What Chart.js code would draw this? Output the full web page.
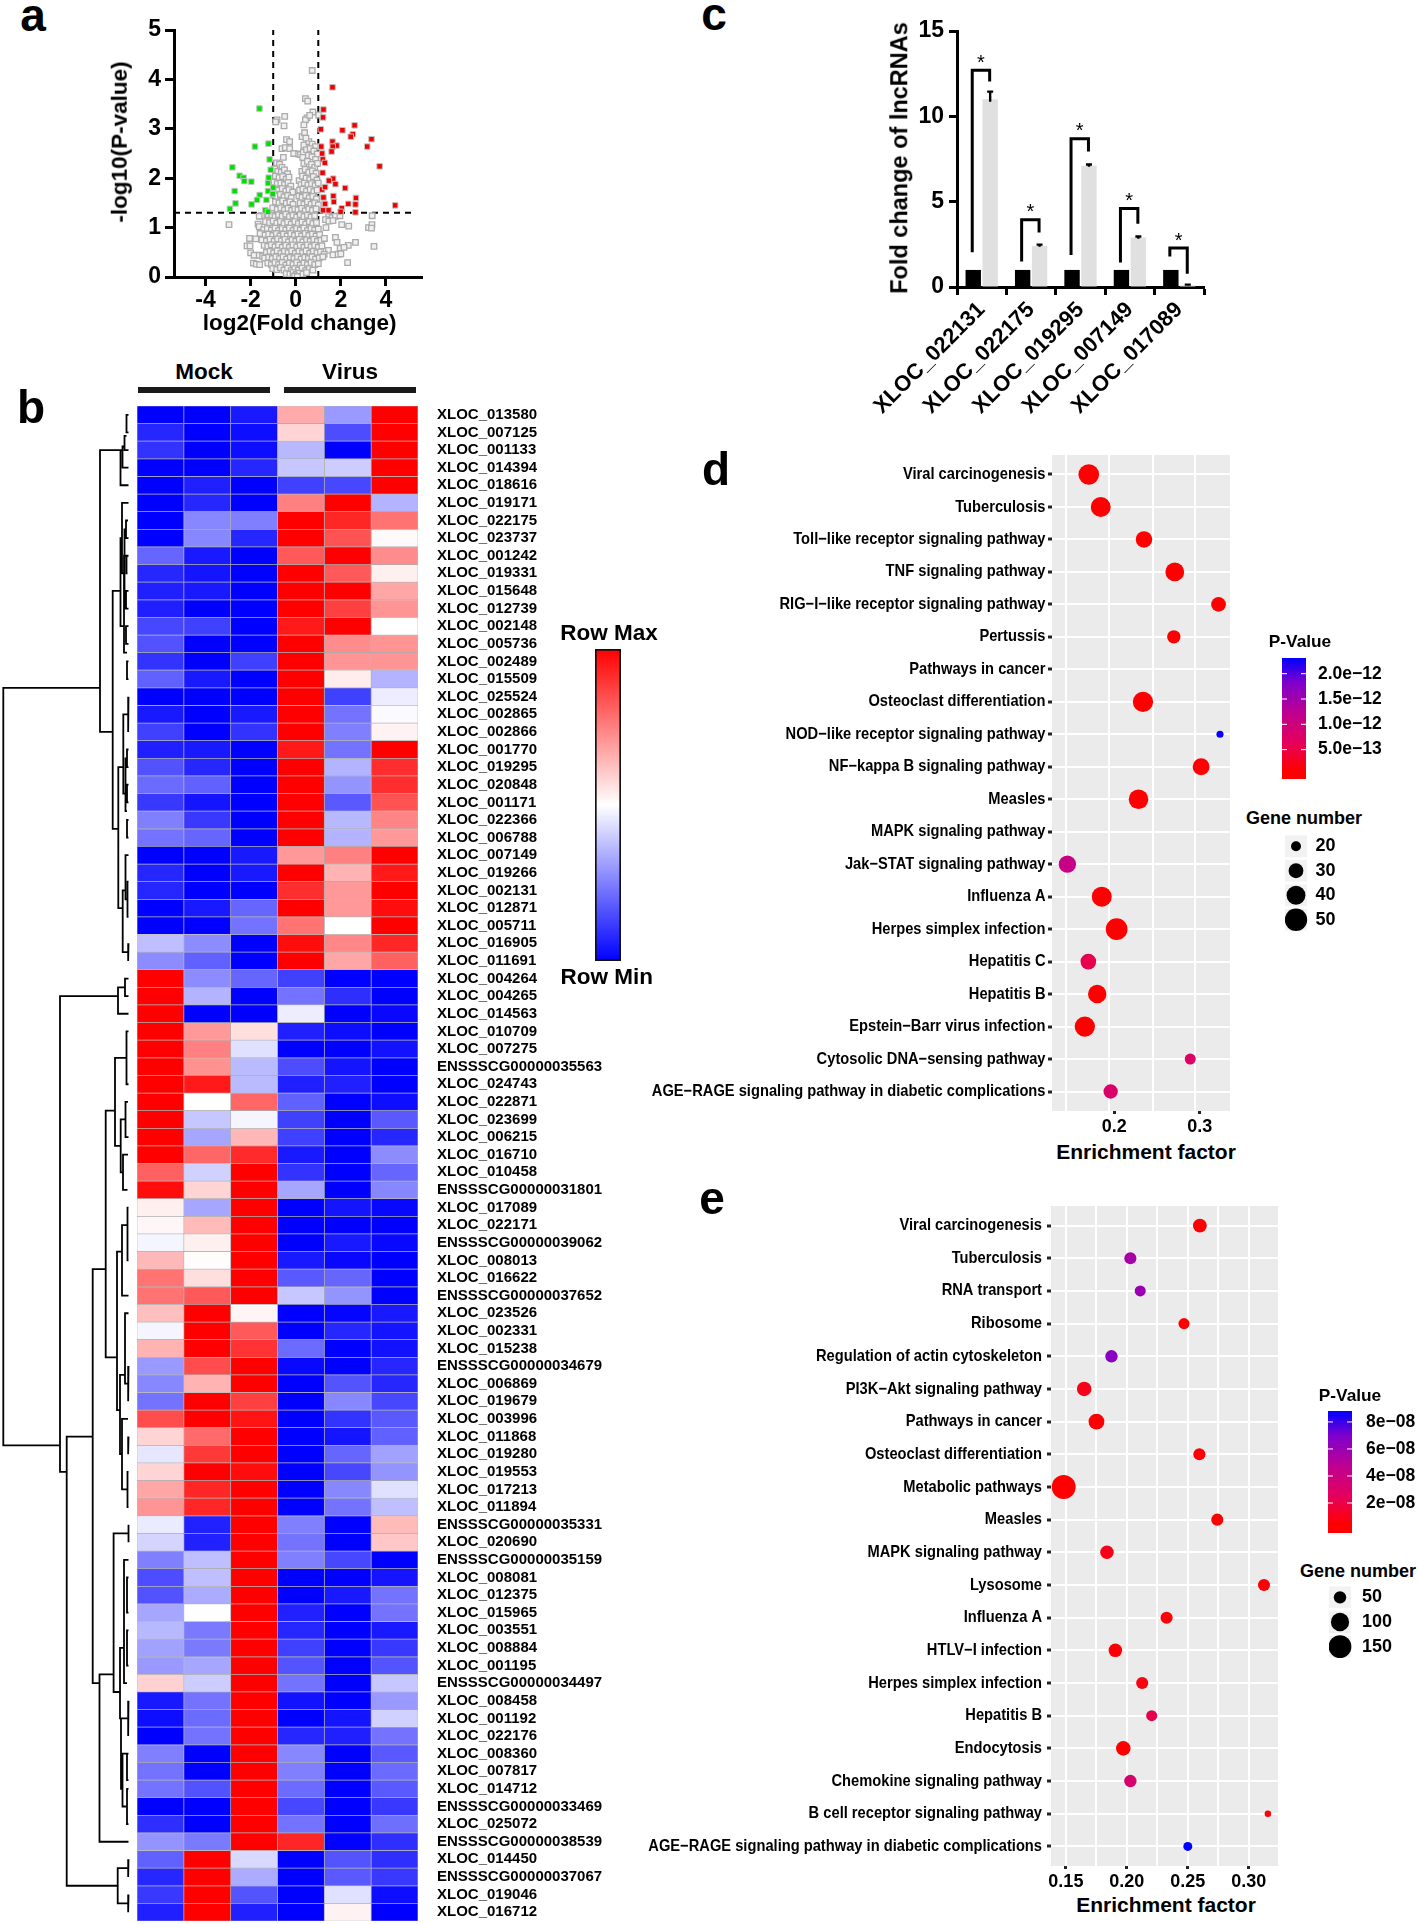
<!DOCTYPE html>
<html>
<head>
<meta charset="utf-8">
<title>lncRNA figure</title>
<script src="https://cdn.jsdelivr.net/npm/chart.js@4.4.2/dist/chart.umd.min.js"></script>
<style>
  html, body { margin: 0; padding: 0; background: #fff; }
  #fig { position: relative; width: 1418px; height: 1924px; overflow: hidden; font-family: "Liberation Sans", Arial, sans-serif; }
  #fig canvas { position: absolute; }
  .txt { position: absolute; white-space: nowrap; line-height: 1; font-weight: bold; color: #000; transform: translate(-50%, -50%); }
  .rule { position: absolute; background: #1a1a1a; }
</style>
</head>
<body>
<div id="fig"></div>
<script>
// ── a: volcano ─────────────────────────────────────────────────────────────
const volcanoXTicks = [-4, -2, 0, 2, 4];
const volcanoYTicks = [0, 1, 2, 3, 4, 5];
const volcanoCutP = 1.3;
const volcanoCutFc = [-1, 1];
const volcanoGreen = [[-1.61,3.41],[-1.21,2.70],[-1.81,2.64],[-1.16,2.38],[-1.11,2.17],[-2.81,2.22],[-2.49,2.05],[-2.31,2.01],[-2.28,1.94],[-1.97,1.93],[-1.20,2.01],[-1.23,1.90],[-1.0,1.81],[-1.23,1.74],[-2.71,1.74],[-1.60,1.66],[-1.02,1.68],[-1.30,1.56],[-1.72,1.56],[-1.96,1.47],[-2.67,1.49],[-2.92,1.38],[-1.35,1.35],[-1.23,1.32]];
const volcanoRed = [[1.63,3.84],[1.23,3.39],[1.21,3.23],[1.11,2.99],[2.07,2.97],[2.61,3.07],[2.53,2.89],[2.44,2.84],[3.36,2.79],[3.17,2.64],[1.63,2.74],[1.81,2.66],[1.64,2.64],[1.59,2.54],[1.13,2.64],[1.17,2.50],[1.20,2.38],[1.29,2.31],[1.19,2.11],[3.72,2.24],[1.66,1.99],[1.47,1.95],[1.76,1.88],[2.19,1.80],[1.17,1.77],[1.30,1.82],[1.67,1.64],[1.69,1.52],[1.23,1.61],[1.30,1.48],[2.67,1.60],[2.65,1.47],[2.33,1.48],[4.41,1.45],[2.04,1.39],[1.45,1.35],[1.21,1.35],[2.65,1.31],[1.99,1.32]];
const volcanoGrey = [
  [0.73,4.18],[0.43,3.61],[0.53,3.56],[0.76,3.34],[1.02,3.28],[-0.49,3.25],[-0.83,3.18],[-0.89,3.14],[-0.52,3.06],[0.5,3.22],[0.43,3.18],[0.36,3.08],[0.62,3.27],
  [0.28,2.84],[0.39,2.92],[-0.41,2.78],[-0.27,2.74],[-0.61,2.6],[-0.46,2.62],[-0.27,2.6],[-0.09,2.5],[0.13,2.49],[0.36,2.67],[0.58,2.74],[0.73,2.69],[0.87,2.64],[0.45,2.81],[0.21,2.48],[-0.55,2.42],[0.34,2.53],[0.48,2.58],[0.64,2.6],[0.8,2.55],[0.95,2.49],[0.31,2.42],[0.56,2.46],[0.72,2.43],[0.88,2.38],[-0.85,2.31],[-0.72,2.28],[-0.61,2.22],[0.36,2.3],[0.52,2.34],[0.7,2.28],[0.84,2.22],[0.97,2.3],
  [-0.94,2.19],[-0.8,2.14],[-0.64,2.12],[-0.5,2.17],[-0.36,2.09],[0.27,2.14],[0.42,2.18],[0.58,2.12],[0.74,2.15],[0.9,2.1],[-0.9,2.04],[-0.74,2.01],[-0.58,2.03],[-0.42,1.98],[-0.3,2.02],[0.15,1.95],[0.3,2.04],[0.46,2.0],[0.62,1.97],[0.78,2.03],[0.94,1.96],
  [-0.96,1.92],[-0.82,1.89],[-0.66,1.9],[-0.5,1.87],[-0.34,1.91],[-0.22,1.84],[0.23,1.87],[0.38,1.9],[0.54,1.86],[0.7,1.89],[0.86,1.85],[1.0,1.9],[-0.92,1.78],[-0.76,1.76],[-0.6,1.79],[-0.44,1.74],[-0.3,1.77],[-0.14,1.72],[0.17,1.76],[0.32,1.78],[0.48,1.74],[0.64,1.77],[0.8,1.73],[0.95,1.76],
  [-0.98,1.66],[-0.84,1.63],[-0.68,1.67],[-0.52,1.62],[-0.36,1.65],[-0.2,1.6],[0.14,1.64],[0.28,1.61],[0.44,1.65],[0.6,1.6],[0.76,1.63],[0.92,1.58],[-0.9,1.52],[-0.74,1.5],[-0.58,1.54],[-0.42,1.49],[-0.26,1.52],[-0.12,1.47],[0.2,1.5],[0.36,1.47],[0.52,1.52],[0.68,1.47],[0.84,1.5],[1.0,1.46],
  [-1.02,1.4],[-0.82,1.37],[-0.66,1.4],[-0.5,1.36],[-0.34,1.39],[-0.18,1.35],[-0.04,1.38],[0.1,1.36],[0.26,1.39],[0.42,1.34],[0.58,1.38],[0.74,1.35],[0.9,1.38],
  [-1.52,1.24],[-1.62,1.23],[-1.22,1.26],[-1.06,1.25],[-0.92,1.22],[-0.76,1.26],[-0.6,1.23],[-0.44,1.27],[-0.28,1.22],[-0.12,1.25],[0.04,1.21],[0.2,1.26],[0.36,1.22],[0.52,1.25],[0.68,1.21],[0.84,1.24],[1.46,1.22],[1.62,1.2],[1.76,1.23],[1.96,1.24],[3.39,1.24],[1.32,1.16],[1.47,1.13],[1.65,1.14],
  [-2.96,1.06],[-1.67,1.07],[-1.62,1.02],[-1.34,1.12],[-1.16,1.1],[-1.0,1.13],[-0.84,1.09],[-0.68,1.12],[-0.52,1.08],[-0.36,1.11],[-0.2,1.07],[-0.04,1.12],[0.12,1.08],[0.28,1.11],[0.44,1.07],[0.6,1.12],[0.76,1.08],[0.92,1.1],[1.34,1.0],[2.04,1.06],[2.35,1.03],[3.23,1.0],[3.38,1.06],[3.36,0.99],
  [-1.42,0.96],[-1.26,0.98],[-1.08,0.95],[-0.92,0.99],[-0.76,0.94],[-0.6,0.98],[-0.44,0.95],[-0.28,0.99],[-0.12,0.94],[0.04,0.98],[0.2,0.95],[0.36,0.99],[0.52,0.94],[0.68,0.98],[0.84,0.95],[1.0,0.97],[-1.58,0.88],[-1.36,0.85],[-1.2,0.87],[-1.02,0.84],[-0.86,0.88],[-0.7,0.83],[-0.54,0.87],[-0.38,0.83],[-0.22,0.88],[-0.06,0.84],[0.1,0.87],[0.26,0.83],[0.42,0.88],[0.58,0.84],[0.74,0.87],[0.9,0.83],[1.06,0.86],
  [-2.05,0.78],[-1.77,0.77],[-1.5,0.75],[-1.3,0.73],[-1.14,0.76],[-0.96,0.72],[-0.8,0.77],[-0.64,0.73],[-0.48,0.76],[-0.32,0.71],[-0.16,0.75],[0.0,0.72],[0.16,0.76],[0.32,0.71],[0.48,0.75],[0.64,0.72],[0.8,0.76],[0.96,0.72],[1.12,0.74],[1.27,0.78],[1.76,0.8],[1.83,0.7],[2.33,0.64],[2.65,0.7],[3.47,0.62],
  [-2.16,0.63],[-2.03,0.63],[-1.4,0.64],[-1.24,0.62],[-1.08,0.65],[-0.92,0.61],[-0.76,0.65],[-0.6,0.6],[-0.44,0.64],[-0.28,0.6],[-0.12,0.65],[0.04,0.61],[0.2,0.64],[0.36,0.6],[0.52,0.65],[0.68,0.61],[0.84,0.64],[1.0,0.6],[1.16,0.63],[1.45,0.54],[1.97,0.58],[2.14,0.6],
  [-2.0,0.49],[-1.85,0.44],[-1.62,0.44],[-1.47,0.42],[-1.3,0.5],[-1.14,0.52],[-0.98,0.49],[-0.82,0.53],[-0.66,0.48],[-0.5,0.52],[-0.34,0.49],[-0.18,0.53],[-0.02,0.48],[0.14,0.52],[0.3,0.49],[0.46,0.53],[0.62,0.48],[0.78,0.52],[0.94,0.49],[1.1,0.51],[1.26,0.46],[1.65,0.45],[1.88,0.46],[2.0,0.47],
  [-1.38,0.38],[-1.2,0.4],[-1.04,0.37],[-0.88,0.41],[-0.72,0.37],[-0.56,0.41],[-0.4,0.36],[-0.24,0.4],[-0.08,0.37],[0.08,0.41],[0.24,0.36],[0.4,0.4],[0.56,0.37],[0.72,0.41],[0.88,0.36],[1.04,0.39],[1.2,0.41],
  [-1.88,0.28],[-1.75,0.26],[-1.6,0.25],[-1.24,0.28],[-1.08,0.25],[-0.92,0.29],[-0.76,0.25],[-0.6,0.29],[-0.44,0.24],[-0.28,0.28],[-0.12,0.25],[0.04,0.29],[0.2,0.24],[0.36,0.28],[0.52,0.25],[0.68,0.29],[0.84,0.25],[1.0,0.27],[2.3,0.29],
  [-1.02,0.17],[-0.84,0.15],[-0.68,0.19],[-0.52,0.14],[-0.36,0.18],[-0.2,0.13],[-0.04,0.17],[0.12,0.14],[0.28,0.18],[0.44,0.13],[0.6,0.17],[0.76,0.14],[-0.42,0.07],[-0.26,0.06],[-0.12,0.09],[0.02,0.05],[0.16,0.08],[0.32,0.06],[0.48,0.09],[-0.05,0.02],[0.07,0.01]
];

// ── b: heat map ────────────────────────────────────────────────────────────
const heatLabels = ['XLOC_013580','XLOC_007125','XLOC_001133','XLOC_014394','XLOC_018616','XLOC_019171','XLOC_022175','XLOC_023737','XLOC_001242','XLOC_019331','XLOC_015648','XLOC_012739','XLOC_002148','XLOC_005736','XLOC_002489','XLOC_015509','XLOC_025524','XLOC_002865','XLOC_002866','XLOC_001770','XLOC_019295','XLOC_020848','XLOC_001171','XLOC_022366','XLOC_006788','XLOC_007149','XLOC_019266','XLOC_002131','XLOC_012871','XLOC_005711','XLOC_016905','XLOC_011691','XLOC_004264','XLOC_004265','XLOC_014563','XLOC_010709','XLOC_007275','ENSSSCG00000035563','XLOC_024743','XLOC_022871','XLOC_023699','XLOC_006215','XLOC_016710','XLOC_010458','ENSSSCG00000031801','XLOC_017089','XLOC_022171','ENSSSCG00000039062','XLOC_008013','XLOC_016622','ENSSSCG00000037652','XLOC_023526','XLOC_002331','XLOC_015238','ENSSSCG00000034679','XLOC_006869','XLOC_019679','XLOC_003996','XLOC_011868','XLOC_019280','XLOC_019553','XLOC_017213','XLOC_011894','ENSSSCG00000035331','XLOC_020690','ENSSSCG00000035159','XLOC_008081','XLOC_012375','XLOC_015965','XLOC_003551','XLOC_008884','XLOC_001195','ENSSSCG00000034497','XLOC_008458','XLOC_001192','XLOC_022176','XLOC_008360','XLOC_007817','XLOC_014712','ENSSSCG00000033469','XLOC_025072','ENSSSCG00000038539','XLOC_014450','ENSSSCG00000037067','XLOC_019046','XLOC_016712'];
// row-scaled expression, -1 (row min) to 1 (row max); Mock x3 then Virus x3
const heatRows = [
  [-1,-1,-.9,.33,-.4,1],[-.85,-1,-.95,.17,-.7,1],[-.8,-1,-.95,-.28,-1,1],[-1,-1,-.85,-.22,-.2,1],[-1,-.88,-1,-.75,-.72,1],
  [-1,-.85,-1,.5,1,-.3],[-1,-.47,-.5,1,.85,.55],[-1,-.47,-.85,1,.68,.02],[-.6,-.9,-1,.65,1,.45],[-.85,-.92,-1,1,.65,.06],
  [-.88,-.9,-1,1,1,.35],[-.88,-1,-1,1,.75,.42],[-.72,-.75,-1,.9,1,0],[-.68,-1,-1,1,.45,.42],[-.8,-1,-.75,1,.42,.42],
  [-.62,-.9,-1,1,.07,-.3],[-1,-1,-1,1,-.75,-.07],[-.9,-1,-.9,1,-.55,-.02],[-.75,-1,-.8,1,-.5,.05],[-.88,-.9,-1,.9,-.55,1],
  [-.68,-.85,-1,1,-.3,.82],[-.58,-.62,-1,1,-.42,.82],[-.78,-.92,-1,1,-.65,.68],[-.5,-.78,-1,1,-.28,.48],[-.55,-.6,-1,1,-.3,.4],
  [-1,-1,-.9,.4,.5,1],[-.85,-1,-.9,1,.3,.9],[-.85,-1,-1,.82,.4,1],[-1,-.9,-.6,1,.4,.95],[-1,-1,-.55,.55,0,1],
  [-.25,-.45,-1,.95,.47,.85],[-.45,-.62,-1,1,.35,.62],[1,-.45,-.6,-.75,-1,-1],[1,-.3,-1,-.55,-.82,-1],[1,-1,-1,-.07,-1,-.97],
  [1,.4,.13,-.88,-.95,-1],[1,.5,-.12,-1,-1,-.93],[1,.43,-.27,-.7,-.92,-1],[1,.9,-.27,-.88,-.88,-1],[1,0,.6,-.62,-1,-.95],
  [1,-.22,-.04,-.75,-1,-.65],[1,-.35,.28,-.75,-1,-.85],[1,.6,.83,-.9,-1,-.45],[.62,-.18,1,-.8,-1,-.6],[.95,.17,1,-.35,-1,-.47],
  [.06,-.35,1,-1,-.92,-.97],[.03,.27,1,-1,-1,-1],[-.04,.06,1,-1,-.9,-.97],[.28,.01,1,-.9,-.97,-1],[.55,.13,1,-.65,-.6,-1],
  [.55,.65,1,-.22,-.42,-1],[.25,1,.04,-1,-.98,-.9],[-.04,1,.65,-1,-.85,-.92],[.3,1,.8,-.58,-1,-.93],[-.4,.7,1,-.97,-1,-.85],
  [-.47,.3,1,-1,-.67,-.85],[-.55,1,.75,-1,-.47,-.72],[.7,1,.92,-1,-.8,-.65],[.17,.58,1,-1,-.92,-.62],[-.1,.78,1,-1,-.6,-.37],
  [.17,1,.95,-1,-.72,-.42],[.35,.85,1,-1,-.47,-.12],[.42,.85,1,-1,-.55,-.25],[-.08,-.87,1,-.5,-1,.27],[-.17,-.87,1,-.55,-1,.22],
  [-.5,-.25,1,-.5,-.72,-1],[-.7,-.25,1,-1,-1,-.92],[-.68,-.33,1,-1,-.9,-.55],[-.35,0,1,-.87,-1,-.55],[-.28,-.52,1,-.85,-1,-.9],
  [-.37,-.52,1,-.75,-1,-.78],[-.4,-.35,1,-.67,-1,-.67],[.18,-.2,1,-.55,-1,-.22],[-.9,-.55,1,-.93,-1,-.4],[-.95,-.58,1,-1,-.92,-.18],
  [-1,-.55,1,-.85,-.88,-.55],[-.5,-1,1,-.47,-1,-.65],[-.55,-1,1,-.5,-1,-.58],[-.55,-.68,1,-.58,-1,-.65],[-1,-1,1,-.72,-1,-.78],
  [-.82,-1,1,-.55,-1,-.57],[-.42,-.52,1,.85,-1,-.82],[-.62,1,-.15,-1,-.67,-.82],[-.85,1,-.33,-1,-.65,-.78],[-.78,1,-.67,-1,-.12,-.95],
  [-.88,1,-.88,-1,.05,-1]
];
// dendrogram joins: [join distance, upper row, upper child distance, lower row, lower child distance]
const dendroJoins = [
  [3.3,16.5,100,59.5,60],[100,3,120.5,19,112.7],[120.5,3,122.5,5,128.5],[122.5,2.8,124.5,4,128.5],[124.5,2.2,126.5,3,128.5],[126.5,1,128.5,2,128.5],
  [112.7,11,120.5,24.5,118.3],[120.5,8,122,13,124],[122,6,128.5,10,124.5],[124.5,7.5,126,12,126.5],[126,7,128,8,128.5],[126.5,9,128.5,10,127.5],[124,9,126,14.5,127],[126,11,128.5,12,128.5],[126,13,128.5,14,128.5],[127,15,128.5,16,128.5],
  [118.3,21,123.3,29,122.7],[123.3,18,128.5,22.5,125.5],[128,17,128.5,19,128.5],[125.5,20.5,127,23.5,127],[127,20,128.5,21,128.5],[127,22,128.5,23,128.5],[127,24,128.5,25,128.5],
  [122.7,28,125.5,31.5,128],[125.5,26,128.5,28.5,127.5],[127.5,27.5,128.5,29.5,128.5],[128,31,128.5,32,128.5],
  [60,34,118,61,66.7],[118,33.5,125,35,128.5],[125,33,128.5,34,128.5],[66.7,59,92.7,84.5,117.7],[117.7,83.5,128,85.5,128],[128,83,128.5,84,128.5],[128,85,128.5,86,128.5],
  [92.7,49.5,105.7,73,99.5],[99.5,72.5,113.6,82,128.5],[113.6,64.5,128.5,73.5,120],[128.5,64,128.5,65,128.5],[120,71,124,75,121],[124,66,128.5,73,127],[127,67,128.5,69,128.5],[127,70,128.5,72,128.5],
  [121,75,128,79,122.5],[128,74,128.5,76,128.5],[122.5,77,127,80,127],[127,77,128.5,78.5,128.5],[127,79,128.5,81,128.5],
  [105.7,40.5,115,54.5,117],[115,37.5,126.5,42.5,120.7],[126.5,36,128.5,39,128.5],[120.7,41,125.5,44,123],[125.5,40,128,42,128.5],[123,43,128,45,127.5],
  [117,48.5,122,57.5,120],[122,47,127.5,51,128.5],[127.5,46,128.5,49,128.5],[120,55.5,125,60,122],[125,52,128.5,56,128],[128,55,128.5,57,128.5],[122,58,128,62,127.5],[127.5,61,128.5,63,128.5],[128,59,128.5,60,128.5]
];

// ── c: fold change bars ────────────────────────────────────────────────────
const barLabels = ['XLOC_022131','XLOC_022175','XLOC_019295','XLOC_007149','XLOC_017089'];
const barTicks = [0, 5, 10, 15];
const mockFold = [1, 1, 1, 1, 1];
const virusFold = [11.0, 2.4, 7.1, 2.9, 0.1];
const virusErrHigh = [11.45, 2.48, 7.18, 2.96, 0.14];
const virusErrLow = [10.85, 2.36, 7.05, 2.82, 0.08];
const bracketTop = [12.7, 3.94, 8.69, 4.6, 2.28];
const bracketLeftEnd = [2.04, 1.5, 1.88, 1.43, 1.78];
const bracketRightEnd = [12.04, 3.2, 7.94, 3.7, 0.77];

// ── d: KEGG dots, first gene set ───────────────────────────────────────────
const pathwaysD = ['Viral carcinogenesis','Tuberculosis','Toll−like receptor signaling pathway','TNF signaling pathway','RIG−I−like receptor signaling pathway','Pertussis','Pathways in cancer','Osteoclast differentiation','NOD−like receptor signaling pathway','NF−kappa B signaling pathway','Measles','MAPK signaling pathway','Jak−STAT signaling pathway','Influenza A','Herpes simplex infection','Hepatitis C','Hepatitis B','Epstein−Barr virus infection','Cytosolic DNA−sensing pathway','AGE−RAGE signaling pathway in diabetic complications'];
const enrichD = [.1703,.1843,.2349,.2709,.3221,.2698,null,.2337,.3238,.3017,.2285,null,.1453,.1855,.2029,.1698,.1802,.1657,.2890,.1959];
const genesD = [45,43,34,40,30,27,null,44,15,35,42,null,36,43,48,32,39,44,22,29];
const pValD = [2e-14,1e-14,5e-14,3e-14,8e-14,1e-13,null,2e-14,2.28e-12,6e-14,3e-14,null,1.1e-12,3e-14,1e-14,5.5e-13,6e-14,5e-14,7.5e-13,8e-13];
const xTicksD = [0.2, 0.3];
const xGridD = [.1436, .194, .2453, .2948];
const pTicksD = [5e-13, 1e-12, 1.5e-12, 2e-12];
const pTickTextD = ['5.0e−13', '1.0e−12', '1.5e−12', '2.0e−12'];
const pRangeD = [-8e-14, 2.31e-12];
const sizeStopsD = [20, 30, 40, 50];

// ── e: KEGG dots, second gene set ──────────────────────────────────────────
const pathwaysE = ['Viral carcinogenesis','Tuberculosis','RNA transport','Ribosome','Regulation of actin cytoskeleton','PI3K−Akt signaling pathway','Pathways in cancer','Osteoclast differentiation','Metabolic pathways','Measles','MAPK signaling pathway','Lysosome','Influenza A','HTLV−I infection','Herpes simplex infection','Hepatitis B','Endocytosis','Chemokine signaling pathway','B cell receptor signaling pathway','AGE−RAGE signaling pathway in diabetic complications'];
const enrichE = [.2599,.2029,.211,.2469,.1874,.165,.1751,.2595,.1482,.2742,.1837,.3125,.2326,.1906,.2126,.2204,.1971,.2029,.3157,.25];
const genesE = [61,48,41,41,50,66,77,48,164,48,58,48,48,58,48,41,66,50,17,29];
const pValE = [2e-9,5.5e-8,6e-8,2e-9,6.6e-8,1e-8,2e-9,5e-9,0,3e-9,1e-8,5e-9,6e-9,5e-9,8e-9,2.2e-8,4e-9,3.2e-8,6e-9,8.8e-8];
const xTicksE = [0.15, 0.20, 0.25, 0.30];
const xGridE = [.15, .175, .2, .225, .25, .275, .3];
const pTicksE = [2e-8, 4e-8, 6e-8, 8e-8];
const pTickTextE = ['2e−08', '4e−08', '6e−08', '8e−08'];
const pRangeE = [-2.2e-9, 8.81e-8];
const sizeStopsE = [50, 100, 150];

// ── helpers ────────────────────────────────────────────────────────────────
const SANS = '"Liberation Sans", Arial, sans-serif';
const fig = document.getElementById('fig');
Chart.defaults.animation = false;
Chart.defaults.font.family = SANS;
Chart.defaults.color = '#000';
Chart.defaults.layout.autoPadding = false;
Chart.defaults.plugins.legend.display = false;
Chart.defaults.plugins.tooltip.enabled = false;

function label(text, x, y, size, rotate) {
  const d = document.createElement('div');
  d.className = 'txt';
  d.textContent = text;
  d.style.cssText = `left:${x}px;top:${y}px;font-size:${size}px;` +
    (rotate ? `transform:translate(-50%,-50%) rotate(${rotate}deg);` : '');
  fig.appendChild(d);
}

function rule(x1, y1, x2, y2) {
  const d = document.createElement('div');
  d.className = 'rule';
  d.style.cssText = `left:${x1}px;top:${y1}px;width:${x2 - x1}px;height:${y2 - y1}px`;
  fig.appendChild(d);
}

// canvas sized so the plot area lands on box; m = room round it for axes
function makeCanvas(box, m) {
  const c = document.createElement('canvas');
  c.width = Math.round(box.r - box.l + m.l + m.r);
  c.height = Math.round(box.b - box.t + m.t + m.b);
  c.style.left = (box.l - m.l) + 'px';
  c.style.top = (box.t - m.t) + 'px';
  c.style.width = c.width + 'px';
  c.style.height = c.height + 'px';
  fig.appendChild(c);
  return c;
}

function fixSize(size) {
  return s => {
    s.paddingLeft = s.paddingRight = s.paddingTop = s.paddingBottom = 0;
    if (s.isHorizontal()) s.height = size; else s.width = size;
  };
}
const setTicks = vals => s => { s.ticks = vals.map(v => ({ value: v })); };

const heatColor = v => {
  const k = Math.round(255 * (1 - Math.abs(v)));
  return v >= 0 ? `rgb(255,${k},${k})` : `rgb(${k},${k},255)`;
};

const P_STOPS = [[0, 255, 0, 0], [.07, 255, 0, 0], [.3, 228, 0, 92], [.55, 190, 0, 145], [.8, 125, 0, 205], [1, 0, 0, 255]];
function pColor(p, range) {
  const t = (p - range[0]) / (range[1] - range[0]);
  for (let i = 1; i < P_STOPS.length; i++) {
    const a = P_STOPS[i - 1], b = P_STOPS[i];
    if (t <= b[0]) {
      const f = Math.max(0, (t - a[0]) / (b[0] - a[0]));
      return `rgb(${[1, 2, 3].map(k => Math.round(a[k] + (b[k] - a[k]) * f)).join(',')})`;
    }
  }
  return 'rgb(0,0,255)';
}

const panelBg = {
  id: 'panelBg',
  beforeDraw(chart) {
    const a = chart.chartArea;
    chart.ctx.fillStyle = '#ebebeb';
    chart.ctx.fillRect(a.left, a.top, a.right - a.left, a.bottom - a.top);
  },
};

// ── a ──────────────────────────────────────────────────────────────────────
(function () {
  const box = { l: 174, t: 30, r: 421.7, b: 277 }, m = { l: 60, t: 16, r: 10, b: 34 };
  const pts = a => a.map(p => ({ x: p[0], y: p[1] }));
  const dash = (data) => ({
    type: 'scatter', data, showLine: true, borderColor: '#000', borderWidth: 2, borderDash: [6, 5], pointRadius: 0,
  });
  const axis = {
    border: { color: '#000', width: 3 },
    grid: { drawOnChartArea: false, color: '#000', tickLength: 9, tickWidth: 3 },
  };
  new Chart(makeCanvas(box, m), {
    type: 'scatter',
    data: {
      datasets: [
        { data: pts(volcanoRed), pointStyle: 'rect', pointRadius: 3.9, pointBackgroundColor: '#f00000', pointBorderColor: '#c4c4c4', pointBorderWidth: 1 },
        { data: pts(volcanoGreen), pointStyle: 'rect', pointRadius: 3.9, pointBackgroundColor: '#00e000', pointBorderColor: '#c4c4c4', pointBorderWidth: 1 },
        { data: pts(volcanoGrey), pointStyle: 'rect', pointRadius: 3.9, pointBackgroundColor: '#f0f0f0', pointBorderColor: '#ababab', pointBorderWidth: 1.3 },
        dash([{ x: volcanoCutFc[0], y: 0 }, { x: volcanoCutFc[0], y: 5 }]),
        dash([{ x: volcanoCutFc[1], y: 0 }, { x: volcanoCutFc[1], y: 5 }]),
        dash([{ x: -5.4, y: volcanoCutP }, { x: 5.32, y: volcanoCutP }]),
      ],
    },
    options: {
      responsive: false,
      layout: { padding: { top: m.t, right: m.r } },
      scales: {
        x: {
          ...axis, min: -5.4, max: 5.6, afterFit: fixSize(m.b), afterBuildTicks: setTicks(volcanoXTicks),
          ticks: { maxRotation: 0, padding: 1, font: { size: 23, weight: 'bold' } },
        },
        y: {
          ...axis, min: 0, max: 5, afterFit: fixSize(m.l), afterBuildTicks: setTicks(volcanoYTicks),
          ticks: { padding: 4, font: { size: 23, weight: 'bold' } },
        },
      },
    },
  });
  label('-log10(P-value)', 120, 142, 22.5, -90);
  label('log2(Fold change)', 299.7, 323, 22.5);
  label('a', 33, 15, 46);
})();

// ── b ──────────────────────────────────────────────────────────────────────
(function () {
  const box = { l: 136.7, t: 405.7, r: 418, b: 1921 }, m = { l: 0, t: 0, r: 220, b: 0 };
  const columns = [0, 1, 2, 3, 4, 5];
  new Chart(makeCanvas(box, m), {
    type: 'bar',
    data: {
      labels: heatLabels,
      datasets: columns.map(c => ({
        data: heatRows.map(() => 1),
        backgroundColor: heatRows.map(r => heatColor(r[c])),
        borderColor: 'rgba(120,120,120,0.45)', borderWidth: 0.7, borderSkipped: false,
        barPercentage: 1, categoryPercentage: 1,
      })),
    },
    options: {
      indexAxis: 'y', responsive: false,
      scales: {
        x: { stacked: true, min: 0, max: 6, display: false },
        y: {
          stacked: true, position: 'right', afterFit: fixSize(m.r),
          border: { display: false }, grid: { display: false },
          ticks: { autoSkip: false, padding: 11, font: { size: 15, weight: 'bold' } },
        },
      },
    },
  });

  const dendroBox = { l: 0, t: 405.7, r: 136, b: 1921 };
  const dendroPath = dendroJoins.flatMap(([p, y1, x1, y2, x2]) => [
    { x: x1, y: y1 }, { x: p, y: y1 }, { x: p, y: y2 }, { x: x2, y: y2 }, { x: null, y: null },
  ]);
  new Chart(makeCanvas(dendroBox, { l: 0, t: 0, r: 0, b: 0 }), {
    type: 'scatter',
    data: { datasets: [{ data: dendroPath, showLine: true, borderColor: '#000', borderWidth: 1.8, pointRadius: 0, spanGaps: false }] },
    options: {
      responsive: false,
      scales: {
        x: { min: 0, max: 136, display: false },
        y: { min: 0.5, max: 86.5, reverse: true, display: false },
      },
    },
  });

  label('b', 31, 407, 46);
  label('Mock', 204, 372, 22.5);
  label('Virus', 350, 372, 22.5);
  rule(138, 387, 270, 393);
  rule(284, 387, 416, 393);

  // Row Max / Row Min bar
  const keyBox = { l: 595, t: 649, r: 621, b: 960.7 };
  new Chart(makeCanvas(keyBox, { l: 0, t: 0, r: 0, b: 0 }), {
    type: 'bar',
    data: {
      labels: [''],
      datasets: [{
        data: [[-1, 1]], borderColor: '#111', borderWidth: 2, borderSkipped: false, barPercentage: 1, categoryPercentage: 1,
        backgroundColor: ctx => {
          const a = ctx.chart.chartArea;
          if (!a) return '#fff';
          const g = ctx.chart.ctx.createLinearGradient(0, a.bottom, 0, a.top);
          g.addColorStop(0, '#0000ff'); g.addColorStop(.5, '#ffffff'); g.addColorStop(1, '#ff0000');
          return g;
        },
      }],
    },
    options: {
      responsive: false,
      scales: { x: { display: false }, y: { min: -1, max: 1, display: false } },
    },
  });
  label('Row Max', 609, 633, 22.5);
  label('Row Min', 606.7, 977, 22.5);
})();

// ── c ──────────────────────────────────────────────────────────────────────
(function () {
  const box = { l: 957, t: 31, r: 1204, b: 286.8 }, m = { l: 90, t: 16, r: 8, b: 140 };
  const axis = {
    border: { color: '#000', width: 3 },
    grid: { drawOnChartArea: false, color: '#000', tickLength: 8, tickWidth: 3 },
  };
  // brackets, stars and error bars hang off the drawn bars
  const annotate = {
    id: 'annotate',
    afterDatasetsDraw(chart) {
      const ctx = chart.ctx, y = chart.scales.y;
      const a = chart.getDatasetMeta(0).data, b = chart.getDatasetMeta(1).data;
      ctx.save();
      ctx.strokeStyle = '#000';
      ctx.fillStyle = '#000';
      barLabels.forEach((_, i) => {
        const x1 = a[i].x - 1, x2 = b[i].x - 0.5;
        ctx.lineWidth = 3;
        ctx.beginPath();
        ctx.moveTo(x1, y.getPixelForValue(bracketLeftEnd[i]));
        ctx.lineTo(x1, y.getPixelForValue(bracketTop[i]));
        ctx.lineTo(x2, y.getPixelForValue(bracketTop[i]));
        ctx.lineTo(x2, y.getPixelForValue(bracketRightEnd[i]));
        ctx.stroke();
        ctx.font = `20px ${SANS}`;
        ctx.textAlign = 'center';
        ctx.textBaseline = 'middle';
        ctx.fillText('*', (x1 + x2) / 2, y.getPixelForValue(bracketTop[i]) - 7);
        const hi = y.getPixelForValue(virusErrHigh[i]), lo = y.getPixelForValue(virusErrLow[i]);
        ctx.lineWidth = 2.4;
        ctx.beginPath();
        ctx.moveTo(b[i].x - 3, hi); ctx.lineTo(b[i].x + 3, hi);
        ctx.moveTo(b[i].x, hi); ctx.lineTo(b[i].x, lo);
        ctx.stroke();
      });
      ctx.restore();
    },
  };
  new Chart(makeCanvas(box, m), {
    type: 'bar',
    data: {
      labels: barLabels,
      datasets: [
        { data: mockFold, backgroundColor: '#000', barPercentage: .91, categoryPercentage: .685 },
        { data: virusFold, backgroundColor: '#e0e0e0', barPercentage: .91, categoryPercentage: .685 },
      ],
    },
    options: {
      responsive: false,
      layout: { padding: { top: m.t, right: m.r } },
      scales: {
        x: {
          ...axis, afterFit: fixSize(m.b),
          ticks: { minRotation: 45, maxRotation: 45, autoSkip: false, padding: 2, font: { size: 22, weight: 'bold' } },
        },
        y: {
          ...axis, min: 0, max: 15, afterFit: fixSize(m.l), afterBuildTicks: setTicks(barTicks),
          ticks: { padding: 5, font: { size: 23, weight: 'bold' } },
        },
      },
    },
    plugins: [annotate],
  });
  label('Fold change of lncRNAs', 900, 157.5, 23.5, -90);
  label('c', 714, 14, 46);
})();

// ── d, e ───────────────────────────────────────────────────────────────────
function dotPanel(o) {
  const m = { l: 420, t: 0, r: 4, b: 26 };
  // the pathway names are condensed in the original, no narrow face is installed here
  const narrowLabels = {
    id: 'narrowLabels',
    afterDraw(chart) {
      const ctx = chart.ctx, y = chart.scales.y, right = chart.chartArea.left - o.labelGap;
      ctx.save();
      ctx.font = `bold 16.5px ${SANS}`;
      ctx.fillStyle = '#000';
      ctx.textAlign = 'right';
      ctx.textBaseline = 'middle';
      y.ticks.forEach((t, i) => {
        ctx.save();
        ctx.translate(right, y.getPixelForTick(i));
        ctx.scale(.89, 1);
        ctx.fillText(t.label, 0, 0);
        ctx.restore();
      });
      ctx.restore();
    },
  };
  new Chart(makeCanvas(o.box, m), {
    type: 'scatter',
    data: {
      datasets: [{
        data: o.enrich.map((x, i) => ({ x, y: i })),
        pointRadius: o.genes.map(o.radius),
        pointBackgroundColor: o.pVals.map(p => (p === null ? 'transparent' : pColor(p, o.pRange))),
        pointBorderWidth: 0,
        clip: false,
      }],
    },
    options: {
      responsive: false,
      layout: { padding: { right: m.r } },
      scales: {
        x: {
          min: o.xRange[0], max: o.xRange[1], afterFit: fixSize(m.b), afterBuildTicks: setTicks(o.xTicks),
          border: { display: false },
          grid: { drawOnChartArea: false, color: '#222', tickLength: 3, tickWidth: 3 },
          ticks: { maxRotation: 0, padding: 2, font: { size: 18, weight: 'bold' }, callback: v => v.toFixed(o.tickDigits) },
        },
        xGrid: {
          position: 'top', min: o.xRange[0], max: o.xRange[1], afterFit: fixSize(0), afterBuildTicks: setTicks(o.xGrid),
          border: { display: false },
          grid: { color: '#fff', lineWidth: 2, drawTicks: false },
          ticks: { display: false },
        },
        y: {
          min: -.6, max: 19.6, reverse: true, afterFit: fixSize(m.l),
          afterBuildTicks: setTicks(o.pathways.map((_, i) => i)),
          border: { display: false },
          grid: { color: '#fff', lineWidth: 2, tickColor: '#222', tickLength: 4, tickWidth: 3 },
          ticks: { display: false, autoSkip: false, callback: v => o.pathways[v] },
        },
      },
    },
    plugins: [panelBg, narrowLabels],
  });
}

function pBar(o) {
  const m = { l: 0, t: 10, r: 90, b: 0 };
  const whiteTicks = {
    id: 'whiteTicks',
    afterDatasetsDraw(chart) {
      const ctx = chart.ctx, a = chart.chartArea, y = chart.scales.y;
      ctx.save();
      ctx.strokeStyle = '#fff';
      ctx.lineWidth = 1;
      o.ticks.forEach(v => {
        const p = y.getPixelForValue(v);
        ctx.beginPath();
        ctx.moveTo(a.left, p); ctx.lineTo(a.left + 5, p);
        ctx.moveTo(a.right - 5, p); ctx.lineTo(a.right, p);
        ctx.stroke();
      });
      ctx.restore();
    },
  };
  new Chart(makeCanvas(o.box, m), {
    type: 'bar',
    data: {
      labels: [''],
      datasets: [{
        data: [o.range], barPercentage: 1, categoryPercentage: 1,
        backgroundColor: ctx => {
          const a = ctx.chart.chartArea;
          if (!a) return '#f00';
          const g = ctx.chart.ctx.createLinearGradient(0, a.bottom, 0, a.top);
          P_STOPS.forEach(s => g.addColorStop(s[0], `rgb(${s[1]},${s[2]},${s[3]})`));
          return g;
        },
      }],
    },
    options: {
      responsive: false,
      layout: { padding: { top: m.t } },
      scales: {
        x: { display: false },
        y: {
          position: 'right', min: o.range[0], max: o.range[1], afterFit: fixSize(m.r), afterBuildTicks: setTicks(o.ticks),
          border: { display: false }, grid: { display: false },
          ticks: { padding: o.pad, font: { size: 17.5, weight: 'bold' }, callback: (v, i) => o.text[i] },
        },
      },
    },
    plugins: [whiteTicks],
  });
}

function sizeKey(o) {
  const box = { l: o.cx - 11, r: o.cx + 11, t: o.y0 - o.pitch / 2, b: o.y0 + o.pitch * (o.stops.length - .5) };
  const m = { l: 0, t: 0, r: 50, b: 0 };
  const data = o.stops.map((_, i) => ({ x: 0, y: i }));
  new Chart(makeCanvas(box, m), {
    type: 'scatter',
    data: {
      datasets: [
        { data, pointRadius: o.stops.map(o.radius), pointBackgroundColor: '#000', pointBorderWidth: 0, clip: false },
        { data, pointStyle: 'rect', pointRadius: 15.5, pointBackgroundColor: '#f2f2f2', pointBorderWidth: 0 },
      ],
    },
    options: {
      responsive: false,
      scales: {
        x: { min: -1, max: 1, display: false },
        y: {
          position: 'right', min: -.5, max: o.stops.length - .5, reverse: true, afterFit: fixSize(m.r),
          afterBuildTicks: setTicks(o.stops.map((_, i) => i)),
          border: { display: false }, grid: { display: false },
          ticks: { autoSkip: false, padding: o.pad, font: { size: 18, weight: 'bold' }, callback: v => o.stops[v] },
        },
      },
    },
  });
}

const radiusD = n => (n === null ? 0 : 2.385 * Math.sqrt(n) - 5.67);
const radiusE = n => 1.004 * Math.sqrt(n) - 0.9;

dotPanel({
  box: { l: 1051.7, t: 454.9, r: 1229.3, b: 1110.4 },
  pathways: pathwaysD, enrich: enrichD, genes: genesD, pVals: pValD, pRange: pRangeD, radius: radiusD,
  xRange: [.1273, .3355], xTicks: xTicksD, xGrid: xGridD, tickDigits: 1, labelGap: 6.5,
});
pBar({ box: { l: 1282, t: 657.9, r: 1306, b: 778.9 }, range: pRangeD, ticks: pTicksD, text: pTickTextD, pad: 4 });
sizeKey({ cx: 1296, y0: 846.5, pitch: 24.55, stops: sizeStopsD, radius: radiusD, pad: 0.6 });
label('d', 716, 469, 46);
label('P-Value', 1300, 642, 17.3);
label('Gene number', 1304, 817.6, 18);
label('Enrichment factor', 1146, 1151, 21);

dotPanel({
  box: { l: 1050.7, t: 1206, r: 1277.4, b: 1865.8 },
  pathways: pathwaysE, enrich: enrichE, genes: genesE, pVals: pValE, pRange: pRangeE, radius: radiusE,
  xRange: [.1378, .324], xTicks: xTicksE, xGrid: xGridE, tickDigits: 2, labelGap: 9,
});
pBar({ box: { l: 1328, t: 1411.1, r: 1352, b: 1532.6 }, range: pRangeE, ticks: pTicksE, text: pTickTextE, pad: 6 });
sizeKey({ cx: 1340, y0: 1597.7, pitch: 24.65, stops: sizeStopsE, radius: radiusE, pad: 3 });
label('e', 712, 1198, 46);
label('P-Value', 1350, 1396, 17.3);
label('Gene number', 1358, 1570.6, 18);
label('Enrichment factor', 1166, 1903.8, 21);
</script>
</body>
</html>
